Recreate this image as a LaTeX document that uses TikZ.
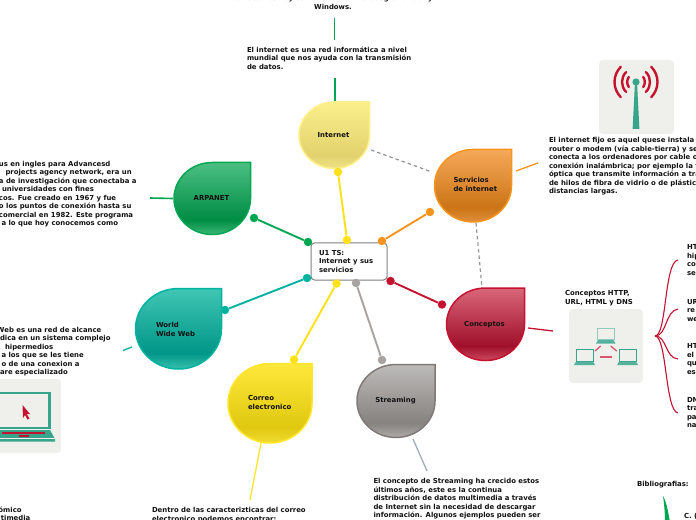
\documentclass[tikz,border=0pt]{standalone}
\usepackage{fontspec}
\setmainfont{DejaVu Sans}
\definecolor{inkc}{HTML}{111111}
\definecolor{greenb}{HTML}{00A651}\definecolor{greent}{HTML}{4BBF82}\definecolor{greend}{HTML}{008C44}\definecolor{greenl}{HTML}{3DB878}
\definecolor{yelb}{HTML}{FFF08A}\definecolor{yelt}{HTML}{FBF08B}\definecolor{yeld}{HTML}{E2D26E}\definecolor{yell}{HTML}{F0E284}
\definecolor{orb}{HTML}{F7941E}\definecolor{ort}{HTML}{F5A95A}\definecolor{ord}{HTML}{CC7416}\definecolor{orl}{HTML}{E08F3F}
\definecolor{redb}{HTML}{C4122F}\definecolor{redt}{HTML}{D9667A}\definecolor{redd}{HTML}{A0102A}\definecolor{redl}{HTML}{CC4A60}
\definecolor{grayb}{HTML}{7F7A78}\definecolor{grayt}{HTML}{BDBBBA}\definecolor{grayd}{HTML}{86827F}\definecolor{grayl}{HTML}{ADAAA8}
\definecolor{maib}{HTML}{FFE62B}\definecolor{mait}{HTML}{FFE83A}\definecolor{maid}{HTML}{E0C810}\definecolor{mail}{HTML}{F0DC30}
\definecolor{teab}{HTML}{00B2A0}\definecolor{teat}{HTML}{40C6B4}\definecolor{tead}{HTML}{009688}\definecolor{teal2}{HTML}{38C0AE}
\definecolor{dotyel}{HTML}{FFE11A}\definecolor{dotgray}{HTML}{A6A3A1}
\definecolor{iconbg}{HTML}{EFF0EC}\definecolor{icont}{HTML}{37A58C}\definecolor{iconl}{HTML}{8FCBBB}\definecolor{iconr}{HTML}{C4122F}\definecolor{iconp}{HTML}{D9566E}
\definecolor{stubblue}{HTML}{A0AEB8}
\newcommand{\mkshade}[4]{\pgfdeclareverticalshading{#1}{100bp}{color(0bp)=(#4); color(25bp)=(#4); color(35bp)=(#3); color(75bp)=(#2); color(100bp)=(#2)}}
\mkshade{sgreen}{greent}{greend}{greenl}
\mkshade{syel}{yelt}{yeld}{yell}
\mkshade{sor}{ort}{ord}{orl}
\mkshade{sred}{redt}{redd}{redl}
\mkshade{sgray}{grayt}{grayd}{grayl}
\mkshade{smai}{mait}{maid}{mail}
\mkshade{stea}{teat}{tead}{teal2}
% \dropshape{name}{x0}{y0}{x1}{y1}{shading}{border}
\newcommand{\dropshape}[7]{%
  \pgfmathsetmacro{\cxx}{(#2+#4)/2}\pgfmathsetmacro{\cyy}{(#3+#5)/2}%
  \pgfmathsetmacro{\kx}{(#4-#2)/2*0.5523}\pgfmathsetmacro{\ky}{(#5-#3)/2*0.5523}%
  \path[shading=#6,shading angle=0,draw=#7,line width=1.5bp]
    (#4,#3) -- (\cxx,#3)
    .. controls ({\cxx-\kx},#3) and (#2,{\cyy-\ky}) .. (#2,\cyy)
    .. controls (#2,{\cyy+\ky}) and ({\cxx-\kx},#5) .. (\cxx,#5)
    .. controls ({\cxx+\kx},#5) and (#4,{\cyy+\ky}) .. (#4,\cyy) -- cycle;
  \coordinate (#1) at (\cxx,\cyy);}
\tikzset{
  x=1bp,y=-1bp,
  txt/.style={inner sep=0pt,outer sep=0pt,text=inkc,align=left,anchor=base west,
    font=\fontsize{6.9bp}{8.5bp}\bfseries\selectfont},
  txtc/.style={txt,align=center,anchor=base},
  dot/.style={circle,inner sep=0pt,minimum size=8.5bp,fill=#1,draw=none},
  conn/.style={draw=#1,line width=1.9bp},
  stub/.style={draw=#1,line width=1.3bp},
  dashc/.style={draw=gray!85,line width=1.2bp,dash pattern=on 3.5bp off 3bp},
  iconbox/.style={fill=iconbg,rounded corners=4bp,draw=none},
  redline/.style={draw=redb,line width=1.1bp},
}
\begin{document}
\begin{tikzpicture}
\useasboundingbox (0,0) rectangle (696,520);
\clip (0,0) rectangle (696,520);
% drops
\dropshape{dInt}{299}{102}{369.5}{168.5}{syel}{yelb}
\dropshape{dArp}{174}{162.5}{250.5}{234.5}{sgreen}{greenb}
\dropshape{dSer}{434.5}{149.5}{511.5}{222}{sor}{orb}
\dropshape{dCon}{446.5}{288}{524.5}{360.5}{sred}{redb}
\dropshape{dStr}{357}{364.5}{435}{437.5}{sgray}{grayb}
\dropshape{dCor}{228}{363.5}{312}{443}{smai}{maib}
\dropshape{dWww}{135.5}{288.5}{221.5}{369}{stea}{teab}
% dashed relations
\coordinate (i1) at (371,150);\coordinate (i2) at (432,172);
\draw[dashc] (i1) -- (i2);
\coordinate (s1) at (476,223);\coordinate (s2) at (482,288);
\draw[dashc] (s1) -- (s2);
% central box
\node[draw=gray,fill=white,rounded corners=3.5bp,line width=1bp,minimum width=76bp,minimum height=37bp,inner sep=0pt] (root) at (349,261.5) {};
\node[txt] (rootlabel) at (319,272.5) {U1 TS:\\Internet y sus\\servicios};
% branch dots and connectors
\node[dot=dotyel] (a1) at (347,240) {};\node[dot=dotyel] (a2) at (338,172) {};
\draw[conn=dotyel] (a1) -- (a2);
\node[dot=greenb] (b1) at (308,242) {};\node[dot=greenb] (b2) at (254,218) {};
\draw[conn=greenb] (b1) -- (b2);
\node[dot=orb] (c1) at (382,241) {};\node[dot=orb] (c2) at (430,212) {};
\draw[conn=orb] (c1) -- (c2);
\node[dot=redb] (e1) at (390.5,281) {};\node[dot=redb] (e2) at (442,304.5) {};
\draw[conn=redb] (e1) -- (e2);
\node[dot=dotgray] (f1) at (356,283) {};\node[dot=dotgray] (f2) at (382,360) {};
\draw[conn=dotgray] (f1) -- (f2);
\node[dot=dotyel] (g1) at (336.5,283.5) {};\node[dot=dotyel] (g2) at (294,359.5) {};
\draw[conn=dotyel] (g1) -- (g2);
\node[dot=teab] (h1) at (307,278) {};\node[dot=teab] (h2) at (225,310) {};
\draw[conn=teab] (h1) -- (h2);
% labels in drops
\node[txtc] (lInt) at (333.5,137.8) {Internet};
\node[txtc] (lArp) at (211.5,200.8) {ARPANET};
\node[txt] (lSer) at (453.5,191.5) {Servicios\\de internet};
\node[txtc] (lCon) at (484.5,326.8) {Conceptos};
\node[txtc] (lStr) at (395.5,402.8) {Streaming};
\node[txt] (lCor) at (248,409) {Correo\\electronico};
\node[txt] (lWww) at (156,336) {World\\Wide Web};
% stubs
\coordinate (t1) at (334.5,18);\coordinate (t2) at (334.5,40);\draw[stub=greenb] (t1) -- (t2);
\coordinate (t3) at (334.5,78);\coordinate (t4) at (334.5,101);\draw[draw=greenb,line width=2bp] (t3) -- (t4);
\coordinate (t5) at (150,198);\coordinate (t6) at (173,198.5);\draw[draw=greenb,line width=1.6bp] (t5) -- (t6);
\coordinate (t7) at (516,171);\coordinate (t8) at (538,163);\draw[stub=orb] (t7) -- (t8);
\coordinate (t9) at (123,350.5);\coordinate (t10) at (132,347);\draw[stub=teab] (t9) -- (t10);
\coordinate (t11) at (261,443);\coordinate (t12) at (250,500);\draw[stub=maib] (t11) -- (t12);
\coordinate (t13) at (413,439);\coordinate (t14) at (427,471);\draw[stub=stubblue] (t13) -- (t14);
\coordinate (t15) at (528,328);\coordinate (t16) at (553,331);\draw[stub=redb] (t15) -- (t16);
% fan
\coordinate (fan) at (655,336);
\coordinate (r1) at (678,260);\coordinate (r2) at (678,309);\coordinate (r3) at (678,359);\coordinate (r4) at (678,413);
\draw[redline] (fan) .. controls (667,336) and (664,262) .. (r1);
\draw[redline] (fan) .. controls (667,336) and (665,311) .. (r2);
\draw[redline] (fan) .. controls (667,336) and (665,358) .. (r3);
\draw[redline] (fan) .. controls (667,336) and (665,411) .. (r4);
% green bracket
\coordinate (k1) at (663,496);
\fill[greenb] (k1) .. controls (667,503) and (668,512) .. (670,522) -- (665,522) .. controls (665,512) and (664,503) .. (k1) -- cycle;
% antenna icon
\fill[iconbox] (599,60) rectangle (674,134);
\fill[icont] (632.6,129) -- (634.9,84) -- (637.1,84) -- (639.4,129) -- cycle;
\fill[icont] (636,82) circle (3.6);
\foreach \r/\a in {8.8/35,14/45,21.5/45}{
  \draw[iconr,line width=2.4bp,line cap=round] ({636+\r*cos(\a)},{82+\r*sin(\a)}) arc[start angle=\a,end angle=-\a,radius=\r];
  \draw[iconr,line width=2.4bp,line cap=round] ({636-\r*cos(\a)},{82+\r*sin(\a)}) arc[start angle=180-\a,end angle=180+\a,radius=\r];
}
% network icon
\fill[iconbox] (569,309) rectangle (643,383);
\draw[iconl,line width=1bp,fill=iconbg] (597.5,328) rectangle (614,339.5);
\fill[icont!85] (598,340) -- (613.5,340) -- (615.5,343.5) -- (596,343.5) -- cycle;
\foreach \xa in {576,619}{
  \draw[icont,line width=1bp,fill=iconbg] (\xa,349.5) rectangle ({\xa+17},361);
  \fill[icont!85] (\xa,361.5) -- ({\xa+17},361.5) -- ({\xa+19},365) -- ({\xa-2},365) -- cycle;
}
\draw[iconp,line width=1.3bp] (595,351) -- (600.7,346);
\draw[iconp,line width=1.3bp] (610.7,346) -- (616.7,351);
\draw[iconp,line width=1.3bp] (600,357) -- (611.7,357);
% laptop icon
\fill[iconbox] (-15,379) rectangle (61,453);
\draw[icont,line width=2.4bp,fill=iconbg] (-2,393) rectangle (49.5,428);
\fill[icont] (-4,430) -- (50,430) -- (55,439) -- (55,441.5) -- (-4,441.5) -- cycle;
\draw[iconbg,line width=.8bp] (-4,438.5) -- (55,438.5);
\fill[iconr] (2,432) rectangle (45,433.5);
\fill[iconr] (19,435) rectangle (29,436.5);
\fill[iconr] (22.5,405) -- (30,414) -- (26.7,414) -- (29.5,418.5) -- (27.5,419.5) -- (25,415) -- (23,418) -- cycle;
% text blocks
\node[txtc] (tTop) at (333,9.5) {conocemos hoy con la creación de Google Yahoo! y\\Windows.};
\node[txt] (tInt) at (247,69.5) {El internet es una red informática a nivel\\mundial que nos ayuda con la transmisión\\de datos.};
\node[txt] (tArp) at (-1,226) {us en ingles para Advancesd\\\hspace*{6.5bp}projects agency network, era un\\a de investigación que conectaba a\\\hspace*{3bp}universidades con fines\\cos. Fue creado en 1967 y fue\\o los puntos de conexión hasta su\\comercial en 1982. Este programa\\\hspace*{2.5bp}a lo que hoy conocemos como};
\node[txt] (tSer) at (549,194) {El internet fijo es aquel quese instala a\\router o modem (vía cable-tierra) y se\\conecta a los ordenadores por cable o\\conexión inalámbrica; por ejemplo la fibra\\óptica que transmite información a través\\de hilos de fibra de vidrio o de plástico a\\distancias largas.};
\node[txt] (tWww) at (0,374.5) {\hspace*{-3bp}Web es una red de alcance\\dica en un sistema complejo\\\hspace*{5bp}hipermedios\\\hspace*{1.5bp}a los que se les tiene\\\hspace*{1.5bp}o de una conexion a\\are especializado};
\node[txt] (tMul) at (-1.5,520.5) {ómico\\ltimedia};
\node[txt] (tCor) at (152,521) {Dentro de las caracterizticas del correo\\electronico podemos encontrar:};
\node[txt] (tStr) at (373.5,517.5) {El concepto de Streaming ha crecido estos\\últimos años, este es la continua\\distribución de datos multimedia a través\\de Internet sin la necesidad de descargar\\información. Algunos ejemplos pueden ser};
\node[txt] (tCon) at (565,304) {Conceptos HTTP,\\URL, HTML y DNS};
\node[txt] (tHt) at (687,275.5) {HT\\hip\\co\\se};
\node[txt] (tUr) at (687,321) {UR\\re\\we};
\node[txt] (tHm) at (687,374) {HT\\el\\qu\\es};
\node[txt] (tDn) at (687,427.5) {DN\\tra\\pa\\na};
\node[txt] (tBib) at (637,486) {Bibliografias:};
\node[txt] (tC) at (684,518.5) {C. (};
\end{tikzpicture}
\end{document}
